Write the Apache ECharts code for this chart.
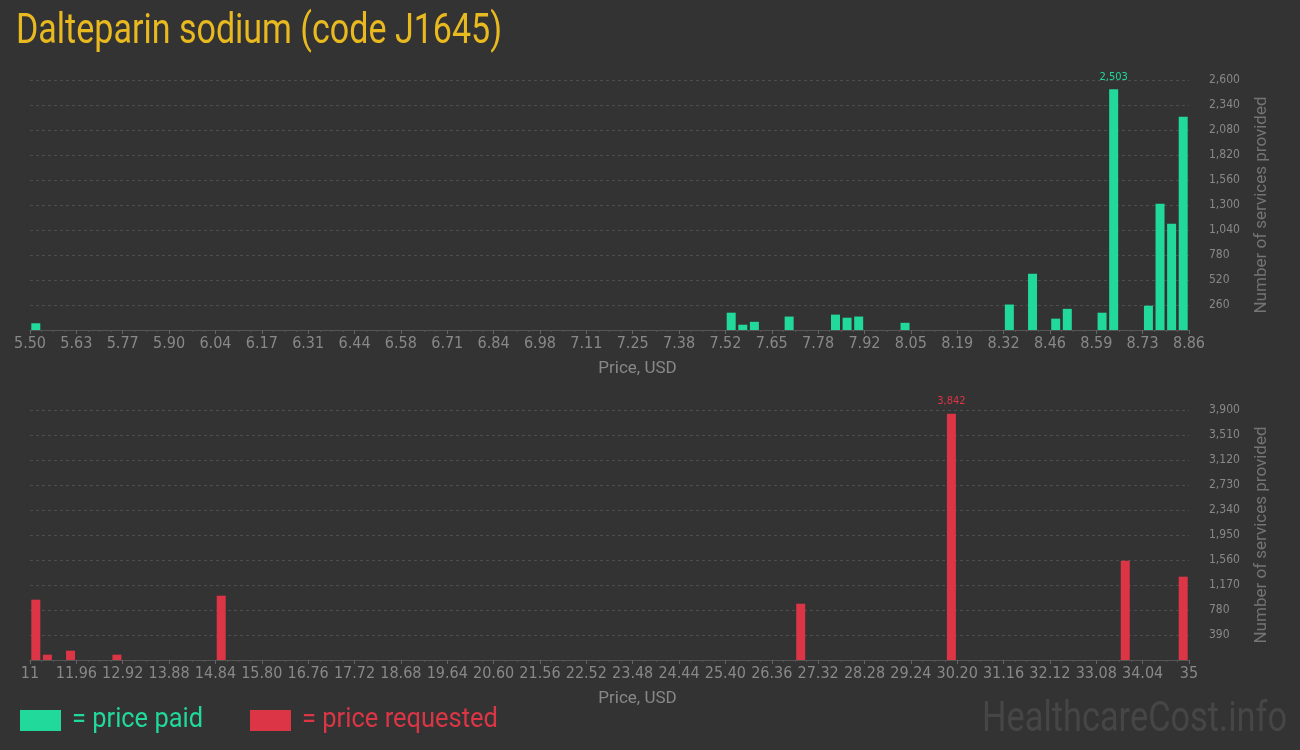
<!DOCTYPE html>
<html>
<head>
<meta charset="utf-8">
<script src="https://cdn.jsdelivr.net/npm/echarts@6/dist/echarts.min.js"></script>
<style>
html,body{margin:0;padding:0;background:#333333;}
#chart{width:1300px;height:750px;}
</style>
</head>
<body>
<div id="chart"></div>
<script>
// ---- data ----
const title = 'Dalteparin sodium (code J1645)';
const paidMin = 5.50, paidMax = 8.86;
const paidTickLabels = ['5.50','5.63','5.77','5.90','6.04','6.17','6.31','6.44','6.58','6.71','6.84','6.98','7.11','7.25','7.38','7.52','7.65','7.78','7.92','8.05','8.19','8.32','8.46','8.59','8.73','8.86'];
const paidPrices = [5.500, 7.516, 7.550, 7.583, 7.684, 7.818, 7.852, 7.886, 8.020, 8.322, 8.390, 8.457, 8.490, 8.591, 8.625, 8.726, 8.759, 8.793, 8.826];
const paidCounts = [70, 180, 55, 85, 140, 160, 128, 140, 75, 265, 585, 118, 220, 180, 2503, 253, 1313, 1105, 2218];
const paidYMax = 2600, paidYStep = 260;

const reqMin = 11, reqMax = 35;
const reqTickLabels = ['11','11.96','12.92','13.88','14.84','15.80','16.76','17.72','18.68','19.64','20.60','21.56','22.52','23.48','24.44','25.40','26.36','27.32','28.28','29.24','30.20','31.16','32.12','33.08','34.04','35'];
const reqPrices = [11.00, 11.24, 11.72, 12.68, 14.84, 26.84, 29.96, 33.56, 34.76];
const reqCounts = [941, 83, 145, 83, 1003, 878, 3842, 1549, 1300];
const reqYMax = 3900, reqYStep = 390;

const BINS = 100, TICK_EVERY = 4;

// ---- style ----
const BG = '#333333', GREEN = '#21d99b', RED = '#dc3545', GOLD = '#e9b920';

const mctx = document.createElement('canvas').getContext('2d');
function hasFont(name) {
  const probe = 'mmmmllll1234567890.,';
  let diff = false;
  ['monospace', 'serif'].forEach(fb => {
    mctx.font = '40px ' + fb;
    const a = mctx.measureText(probe).width;
    mctx.font = '40px "' + name + '", ' + fb;
    const b = mctx.measureText(probe).width;
    if (Math.abs(a - b) > 0.5) diff = true;
  });
  return diff;
}
let AXIS_FONT = 'Roboto', X_SIZE = 14, Y_SIZE = 11, NARROW = false;
for (const f of ['Liberation Sans Narrow', 'DejaVu Sans Condensed', 'Arial Narrow']) {
  if (hasFont(f)) { AXIS_FONT = '"' + f + '"'; NARROW = true; break; }
}
if (NARROW) { X_SIZE = 16; Y_SIZE = 12; }

function toBins(prices, counts, min, max) {
  const w = (max - min) / BINS;
  const mx = Math.max(...counts);
  return prices.map((p, i) => ({
    value: [Math.round((p - min) / w) + 0.5, counts[i]],
    label: { show: counts[i] === mx }
  }));
}

function xAxisCfg(gridIndex, labels) {
  return {
    gridIndex, type: 'value', min: 0, max: BINS, interval: TICK_EVERY,
    name: 'Price, USD', nameLocation: 'middle', nameGap: 30,
    nameTextStyle: { color: '#888', fontSize: 17, fontFamily: 'Roboto', padding: [0, 0, 0, 56] },
    axisLine: { show: true, lineStyle: { color: '#555', width: 1 } },
    axisTick: { show: true, length: 4, lineStyle: { color: '#666' } },
    minorTick: { show: true, splitNumber: 4, length: 2, lineStyle: { color: '#555' } },
    splitLine: { show: false },
    axisLabel: { color: '#888', fontSize: X_SIZE, fontFamily: AXIS_FONT, margin: 6,
      formatter: v => labels[Math.round(v / TICK_EVERY)] }
  };
}

function yAxisCfg(gridIndex, max, step) {
  return {
    gridIndex, type: 'value', position: 'right', min: 0, max, interval: step,
    name: 'Number of services provided', nameLocation: 'middle', nameGap: 64, nameRotate: 90,
    nameTextStyle: { color: '#747474', fontSize: 17, fontFamily: 'Roboto' },
    axisLine: { show: false },
    axisTick: { show: false },
    splitLine: { show: true, lineStyle: { color: '#4d4d4d', type: [3, 3], width: 1 } },
    axisLabel: { color: '#888', fontSize: Y_SIZE, fontFamily: AXIS_FONT, margin: 20, showMinLabel: false }
  };
}

function fitText(text, x, y, size, color, targetW, family) {
  mctx.font = size + 'px ' + (family || 'Roboto');
  const w = mctx.measureText(text).width;
  return {
    type: 'text', x, y, scaleX: targetW / w, originX: 0, originY: 0,
    style: { text, fill: color, font: size + 'px ' + (family || 'Roboto'), textVerticalAlign: 'middle' }
  };
}

const chart = echarts.init(document.getElementById('chart'), null, { renderer: 'canvas' });
chart.setOption({
  backgroundColor: BG,
  animation: false,
  grid: [
    { left: 30, right: 111, top: 80, height: 250 },
    { left: 30, right: 111, top: 410, height: 250 }
  ],
  xAxis: [xAxisCfg(0, paidTickLabels), xAxisCfg(1, reqTickLabels)],
  yAxis: [yAxisCfg(0, paidYMax, paidYStep), yAxisCfg(1, reqYMax, reqYStep)],
  series: [
    { type: 'bar', xAxisIndex: 0, yAxisIndex: 0, barWidth: 9, itemStyle: { color: GREEN },
      label: { position: 'top', distance: 7, color: GREEN, fontSize: 11, fontFamily: AXIS_FONT,
        formatter: p => p.value[1].toLocaleString('en-US') },
      data: toBins(paidPrices, paidCounts, paidMin, paidMax) },
    { type: 'bar', xAxisIndex: 1, yAxisIndex: 1, barWidth: 9, itemStyle: { color: RED },
      label: { position: 'top', distance: 7, color: RED, fontSize: 11, fontFamily: AXIS_FONT,
        formatter: p => p.value[1].toLocaleString('en-US') },
      data: toBins(reqPrices, reqCounts, reqMin, reqMax) }
  ],
  graphic: [
    fitText(title, 16, 32, 42, GOLD, 486),
    { type: 'rect', shape: { x: 20, y: 710, width: 41, height: 21 }, style: { fill: GREEN } },
    fitText('= price paid', 72, 720, 28, GREEN, 131),
    { type: 'rect', shape: { x: 250, y: 710, width: 41, height: 21 }, style: { fill: RED } },
    fitText('= price requested', 302, 720, 28, RED, 196),
    fitText('HealthcareCost.info', 982, 720, 42, '#464646', 305)
  ]
});
</script>
</body>
</html>
